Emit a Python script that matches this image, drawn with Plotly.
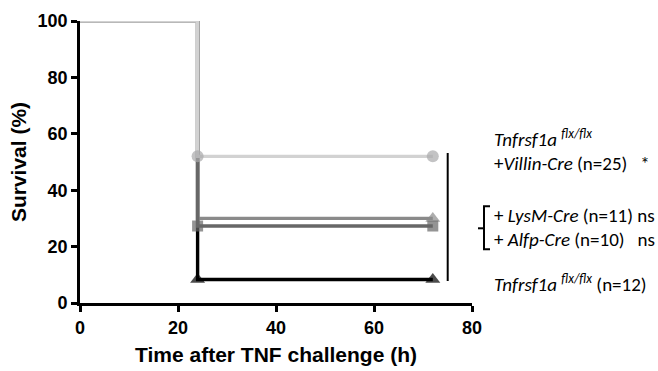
import plotly.graph_objects as go

# Data
time_h = [0, 24, 72]
control = [100, 8.33, 8.33]          # Tnfrsf1a flx/flx (n=12)
alfp = [100, 30, 30]                 # + Alfp-Cre (n=10)
lysm = [100, 27.3, 27.3]             # + LysM-Cre (n=11)
villin = [100, 52, 52]               # + Villin-Cre (n=25)
x_ticks = [0, 20, 40, 60, 80]
y_ticks = [0, 20, 40, 60, 80, 100]

series = [
    (control, "#000000", "#000000", "triangle-up", [0, 13, 13]),
    (alfp, "#8a8a8a", "#8a8a8a", "triangle-up", [0, 0, 13]),
    (lysm, "#676767", "#676767", "square", [0, 11, 11]),
    (villin, "#d2d2d2", "#a9a9ab", "circle", [0, 12, 12]),
]

fig = go.Figure()
for ys, lc, mc, sym, ms in series:
    fig.add_trace(go.Scatter(
        x=time_h, y=ys, mode="lines+markers", line_shape="hv",
        line=dict(color=lc, width=3.4),
        marker=dict(symbol=sym, color=mc, size=ms, line=dict(width=0)),
        cliponaxis=False, showlegend=False, hoverinfo="skip"))

L, R, T, B = 80, 472, 20.7, 302.7
tfont = dict(family="Liberation Sans, Arial", size=18, color="black", weight="bold")
titfont = dict(family="Liberation Sans, Arial", size=21, color="black", weight="bold")
fig.update_layout(
    width=658, height=371, margin=dict(l=L, r=658 - R, t=T, b=371 - B),
    plot_bgcolor="white", paper_bgcolor="white",
    xaxis=dict(range=[0, 80], tickvals=x_ticks, showline=True, linecolor="black",
               linewidth=2.8, ticks="outside", ticklen=6, tickwidth=2.5, tickcolor="black",
               showgrid=False, zeroline=False, tickfont=tfont, automargin=False,
               title=dict(text="Time after TNF challenge (h)", font=titfont, standoff=11)),
    yaxis=dict(range=[0, 100], tickvals=y_ticks, showline=True, linecolor="black",
               linewidth=2.8, ticks="outside", ticklen=6, tickwidth=2.5, tickcolor="black",
               showgrid=False, zeroline=False, tickfont=tfont, automargin=False,
               title=dict(text="Survival (%)", font=titfont, standoff=6)),
)

def P(px, py):
    return (px - L) / (R - L), (B - py) / (B - T)

afont = dict(family="Carlito, Lato, sans-serif", size=19, color="black")
sup = "<sup>flx/flx</sup>"
notes = [
    (492, 138, f"<i>Tnfrsf1a</i> <i>{sup}</i>"),
    (492, 163, "+<i>Villin-Cre</i> (n=25)   *"),
    (492, 215, "+ <i>LysM-Cre</i> (n=11) ns"),
    (492, 239, "+ <i>Alfp-Cre</i> (n=10)   ns"),
    (492, 283, f"<i>Tnfrsf1a</i> <i>{sup}</i> (n=12)"),
]
for px, py, txt in notes:
    ax, ay = P(px, py)
    fig.add_annotation(x=ax, y=ay, xref="paper", yref="paper",
                       text=txt, showarrow=False, xanchor="left", yanchor="middle", font=afont)

# vertical significance line
x0, y0 = P(447.7, 152.7); x1, y1 = P(447.7, 280.7)
fig.add_shape(type="line", xref="paper", yref="paper", x0=x0, y0=y0, x1=x1, y1=y1,
              line=dict(color="black", width=2))
# bracket
pts = [P(490, 206), P(484, 206), P(484, 249), P(490, 249)]
path = "M {} {} L {} {} L {} {} L {} {}".format(*[c for p in pts for c in p])
fig.add_shape(type="path", xref="paper", yref="paper", path=path, line=dict(color="black", width=2))
mx0, my0 = P(478, 228); mx1, my1 = P(484, 228)
fig.add_shape(type="line", xref="paper", yref="paper", x0=mx0, y0=my0, x1=mx1, y1=my1,
              line=dict(color="black", width=2))

fig.write_html("out.html")
